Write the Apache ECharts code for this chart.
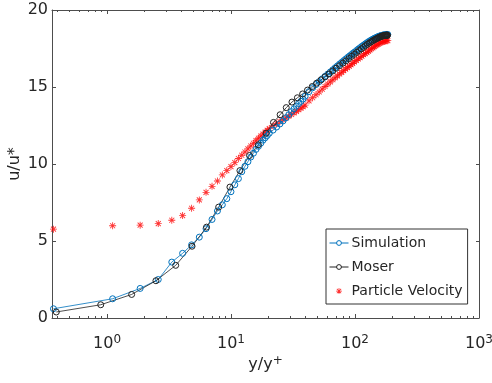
<!DOCTYPE html>
<html>
<head>
<meta charset="utf-8">
<script src="https://cdn.jsdelivr.net/npm/echarts@6/dist/echarts.min.js"></script>
<style>
	html, body { margin: 0; padding: 0; background: #fff; }
	#container { width: 492px; height: 383px; }
</style>
</head>
<body>
<div id="container"></div>
<script>
	// y+ of the simulation / particle points
	var simX = [0.37, 1.11, 1.85, 2.59, 3.33, 4.07, 4.81, 5.55, 6.29, 7.03, 7.77, 8.51, 9.25, 9.99,
		10.73, 11.47, 12.21, 12.95, 13.69, 14.43, 15.17, 15.91, 16.65, 17.39, 18.13, 18.87, 19.61, 20.35,
		21.83, 23.31, 24.79, 26.27, 27.75, 29.23, 30.71, 32.19, 33.67, 35.15, 36.63, 38.11, 39.59,
		42.55, 45.51, 48.47, 51.43, 54.39, 57.35, 60.31, 63.27, 66.23, 69.19, 72.15, 75.11, 78.07,
		81.03, 83.99, 86.95, 89.91, 92.87, 95.83, 98.79,
		102.49, 106.19, 109.89, 113.59, 117.29, 120.99, 124.69, 128.39, 132.09, 135.79, 139.49,
		143.19, 146.89, 150.59, 154.29, 157.99, 161.69, 165.39, 169.09, 172.79, 176.49, 180.19, 183.89];

	var simU = [0.6, 1.25, 1.92, 2.5, 3.63, 4.2, 4.75, 5.25, 5.8, 6.4, 6.95, 7.35, 7.75, 8.2,
		8.65, 9.05, 9.5, 9.85, 10.15, 10.45, 10.7, 10.95, 11.15, 11.35, 11.55, 11.7, 11.85, 12.0,
		12.2, 12.4, 12.6, 12.8, 13.0, 13.2, 13.4, 13.58, 13.75, 13.92, 14.07, 14.22, 14.4,
		14.7, 14.95, 15.16, 15.35, 15.53, 15.69, 15.84, 15.98, 16.12, 16.25, 16.37, 16.49, 16.6,
		16.71, 16.81, 16.91, 17.0, 17.09, 17.18, 17.26,
		17.36, 17.46, 17.55, 17.64, 17.72, 17.8, 17.87, 17.94, 18.0, 18.06, 18.11,
		18.16, 18.2, 18.24, 18.28, 18.31, 18.34, 18.36, 18.38, 18.39, 18.4, 18.41, 18.41];

	var partU = [5.77, 5.99, 6.03, 6.13, 6.35, 6.65, 7.13, 7.67, 8.16, 8.55, 8.9, 9.29, 9.57, 9.83,
		10.09, 10.36, 10.57, 10.78, 10.98, 11.17, 11.35, 11.52, 11.67, 11.82, 11.95, 12.07, 12.19, 12.3,
		12.48, 12.62, 12.75, 12.87, 12.99, 13.1, 13.21, 13.32, 13.42, 13.52, 13.62, 13.72, 13.82,
		14.1, 14.3, 14.5, 14.68, 14.86, 15.03, 15.19, 15.33, 15.47, 15.6, 15.72, 15.84, 15.95,
		16.06, 16.16, 16.26, 16.35, 16.44, 16.53, 16.62,
		16.72, 16.82, 16.91, 17.0, 17.09, 17.17, 17.25, 17.33, 17.41, 17.48, 17.55,
		17.62, 17.68, 17.74, 17.79, 17.84, 17.88, 17.92, 17.95, 17.97, 17.99, 18.0, 18.01];

	// Moser DNS profile
	var moserX = [0.39, 0.89, 1.58, 2.48, 3.58, 4.85, 6.35, 7.95, 9.8, 11.8, 14.1, 16.6, 19.2, 22.0,
		24.9, 27.9, 31.0, 34.3, 37.8, 41.4, 45.2, 49.1, 53.2, 57.4, 61.7, 66.1, 70.6, 75.2, 79.8,
		84.5, 89.2, 93.9, 98.6, 103.3, 107.9, 112.5, 117.0, 121.4, 125.7, 129.9, 134.0, 137.9,
		141.7, 145.3, 148.8, 152.1, 155.2, 158.1, 160.9, 163.5, 165.9, 168.1, 170.2, 172.1, 173.8,
		175.4, 176.8, 178.0, 179.1, 180.0, 180.8, 181.4, 181.9, 182.3];
	var moserU = [0.39, 0.86, 1.53, 2.42, 3.42, 4.66, 5.9, 7.2, 8.5, 9.57, 10.55, 11.25, 12.0, 12.7,
		13.2, 13.66, 14.02, 14.3, 14.55, 14.8, 15.03, 15.25, 15.46, 15.66, 15.85, 16.04, 16.22, 16.39, 16.55,
		16.7, 16.85, 16.99, 17.12, 17.25, 17.37, 17.48, 17.58, 17.68, 17.77, 17.85, 17.92, 17.98,
		18.04, 18.09, 18.13, 18.17, 18.21, 18.24, 18.27, 18.29, 18.31, 18.32, 18.33, 18.34, 18.35,
		18.35, 18.36, 18.36, 18.36, 18.36, 18.36, 18.36, 18.36, 18.36];

	// axis ticks
	var xMajor = [1, 10, 100, 1000];
	var xMinor = [0.4, 0.5, 0.6, 0.7, 0.8, 0.9, 2, 3, 4, 5, 6, 7, 8, 9,
		20, 30, 40, 50, 60, 70, 80, 90, 200, 300, 400, 500, 600, 700, 800, 900];

	var xMin = 0.36, xMax = 1000;
	var axisColor = '#4d4d4d';
	var textColor = '#262626';
	var blue = '#0072BD';
	var asterisk = 'path://M-1,-8 L1,-8 L1,8 L-1,8 Z M-8,-1 L8,-1 L8,1 L-8,1 Z '
		+ 'M-6.4,-5 L-5,-6.4 L6.4,5 L5,6.4 Z M-6.4,5 L5,-6.4 L6.4,-5 L-5,6.4 Z';

	function pairs(xs, ys){
		var out = [];
		for (var i = 0; i < xs.length; i++) out.push([xs[i], ys[i]]);
		return out;
	}

	function xAxisDef(pos, ticks, len, main){
		return {
			type: 'log', logBase: 10, min: xMin, max: xMax, position: pos,
			name: main ? '{a|y/y}{s|+}' : '',
			nameLocation: 'middle', nameGap: 37, nameMoveOverlap: false,
			nameTextStyle: { rich: {
				a: { fontSize: 16, color: textColor, fontFamily: 'DejaVu Sans', lineHeight: 20 },
				s: { fontSize: 12, color: textColor, fontFamily: 'DejaVu Sans', verticalAlign: 'top', lineHeight: 12 }
			}},
			axisLine: { show: len > 3, lineStyle: { color: axisColor, width: 1 } },
			axisTick: { show: true, inside: true, length: len, customValues: ticks, lineStyle: { color: axisColor } },
			minorTick: { show: false },
			splitLine: { show: false },
			axisLabel: {
				show: main, customValues: xMajor, margin: 16,
				formatter: function(v){ return '{b|10}{s|' + Math.round(Math.log10(v)) + '}'; },
				rich: {
					b: { fontSize: 16, color: textColor, fontFamily: 'DejaVu Sans', lineHeight: 20 },
					s: { fontSize: 12, color: textColor, fontFamily: 'DejaVu Sans', verticalAlign: 'top', lineHeight: 12 }
				}
			}
		};
	}

	var myChart = echarts.init(document.getElementById('container'), null, { renderer: 'canvas' });
	var option = {
		animation: false,
		backgroundColor: '#fff',
		grid: { left: 52, right: 13, top: 10, bottom: 65, containLabel: false, outerBoundsMode: 'none' },
		xAxis: [
			xAxisDef('bottom', xMajor, 4, true),
			xAxisDef('bottom', xMinor, 2, false),
			xAxisDef('top', xMajor, 4, false),
			xAxisDef('top', xMinor, 2, false)
		],
		yAxis: [{
			type: 'value', min: 0, max: 20, interval: 5, position: 'left',
			name: 'u/u*', nameLocation: 'middle', nameGap: 29, nameMoveOverlap: false,
			nameTextStyle: { fontSize: 16, color: textColor, fontFamily: 'DejaVu Sans' },
			axisLine: { show: true, lineStyle: { color: axisColor } },
			axisTick: { inside: true, length: 4, lineStyle: { color: axisColor } },
			axisLabel: { fontSize: 16, color: textColor, fontFamily: 'DejaVu Sans', margin: 4 },
			splitLine: { show: false }
		}, {
			type: 'value', min: 0, max: 20, interval: 5, position: 'right',
			axisLine: { show: true, lineStyle: { color: axisColor } },
			axisTick: { inside: true, length: 3, lineStyle: { color: axisColor } },
			axisLabel: { show: false },
			splitLine: { show: false }
		}],
		legend: {
			orient: 'vertical', left: 326, top: 229,
			backgroundColor: '#fff', borderColor: '#333', borderWidth: 1,
			padding: [7, 5, 6, 3], itemGap: 10, itemWidth: 19, itemHeight: 6,
			lineStyle: { width: 1 },
			textStyle: { fontSize: 14, color: textColor, fontFamily: 'DejaVu Sans', padding: [0, 0, 0, -2] },
			data: [
				{ name: 'Simulation', itemStyle: { color: '#fff', borderColor: blue, borderWidth: 1 } },
				{ name: 'Moser', itemStyle: { color: '#fff', borderColor: '#222', borderWidth: 1 } },
				{ name: 'Particle Velocity' }
			]
		},
		series: [{
			name: 'Simulation', type: 'line',
			data: pairs(simX, simU),
			symbol: 'circle', symbolSize: 6, showAllSymbol: true,
			itemStyle: { color: 'rgba(255,255,255,0)', borderColor: blue, borderWidth: 1 },
			lineStyle: { color: blue, width: 0.8 }
		}, {
			name: 'Moser', type: 'line',
			data: pairs(moserX, moserU),
			symbol: 'circle', symbolSize: 6, showAllSymbol: true,
			itemStyle: { color: 'rgba(255,255,255,0)', borderColor: '#222', borderWidth: 1 },
			lineStyle: { color: '#222', width: 0.8 }
		}, {
			name: 'Particle Velocity', type: 'scatter',
			data: pairs(simX, partU),
			symbol: asterisk, symbolSize: 7,
			itemStyle: { color: '#ff0000' }
		}]
	};
	myChart.setOption(option);
</script>
</body>
</html>
